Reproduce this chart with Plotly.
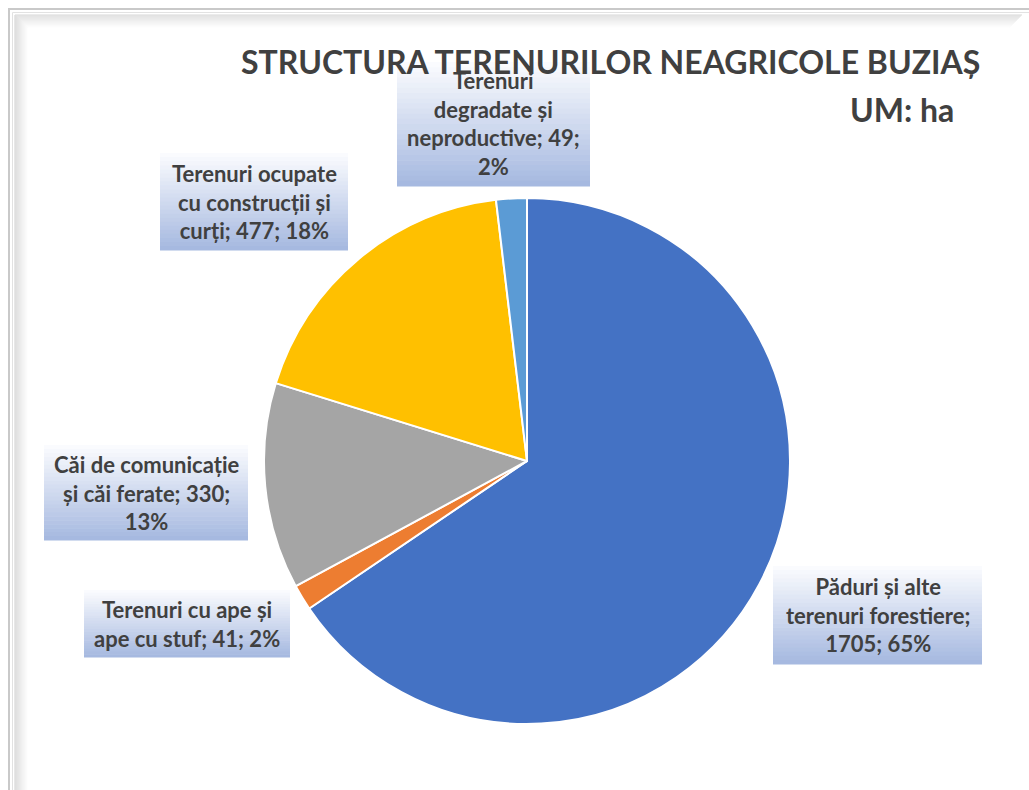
import plotly.graph_objects as go

W, H = 1029, 790

# data
categories = [
    "Păduri și alte terenuri forestiere",
    "Terenuri cu ape și ape cu stuf",
    "Căi de comunicație și căi ferate",
    "Terenuri ocupate cu construcții și curți",
    "Terenuri degradate și neproductive",
]
values = [1705, 41, 330, 477, 49]
label_texts = [
    "Păduri și alte<br>terenuri forestiere;<br>1705; 65%",
    "Terenuri cu ape și<br>ape cu stuf; 41; 2%",
    "Căi de comunicație<br>și căi ferate; 330;<br>13%",
    "Terenuri ocupate<br>cu construcții și<br>curți; 477; 18%",
    "Terenuri<br>degradate și<br>neproductive; 49;<br>2%",
]
colors = ["#4472C4", "#ED7D31", "#A5A5A5", "#FFC000", "#5B9BD5"]

# label boxes in pixels: x0, y0, x1, y1
boxes = [
    (773, 566, 982, 664),
    (84, 590, 290, 657),
    (44, 445, 248, 540),
    (160, 153, 348, 250),
    (397, 62, 590, 186),
]


def px(x):
    return x / W


def py(y):
    return 1 - y / H


def mix(c1, c2, t):
    r = [int(round(a + (b - a) * t)) for a, b in zip(c1, c2)]
    return "rgb(%d,%d,%d)" % tuple(r)


cx, cy, r = 527, 461, 263

fig = go.Figure(go.Pie(
    labels=categories,
    values=values,
    sort=False,
    direction="clockwise",
    rotation=0,
    marker=dict(colors=colors, line=dict(color="white", width=2)),
    textinfo="none",
    hoverinfo="label+value+percent",
    showlegend=False,
    domain=dict(x=[px(cx - r), px(cx + r)], y=[py(cy + r), py(cy - r)]),
))

shapes = []
# frame with soft shadow
for i in range(14):
    c = mix((215, 215, 215), (255, 255, 255), i / 13)
    shapes.append(dict(type="line", xref="paper", yref="paper",
                       x0=px(15 + i), x1=px(15 + i), y0=py(15 + i), y1=py(800),
                       line=dict(color=c, width=1.2), layer="below"))
    shapes.append(dict(type="line", xref="paper", yref="paper",
                       x0=px(15 + i), x1=px(1022 - i), y0=py(15 + i), y1=py(15 + i),
                       line=dict(color=c, width=1.2), layer="below"))
shapes.append(dict(type="rect", xref="paper", yref="paper",
                   x0=px(9), x1=px(1040), y0=py(9), y1=py(800),
                   line=dict(color="#c9c9c9", width=2), layer="below"))
shapes.append(dict(type="rect", xref="paper", yref="paper",
                   x0=px(12.5), x1=px(1040), y0=py(12.5), y1=py(800),
                   line=dict(color="#e2e2e2", width=1), layer="below"))

# gradient label boxes
n = 24
top, bot = (250, 251, 254), (166, 185, 224)
for (x0, y0, x1, y1) in boxes:
    h = (y1 - y0) / n
    for k in range(n):
        shapes.append(dict(type="rect", xref="paper", yref="paper",
                           x0=px(x0), x1=px(x1),
                           y0=py(y0 + k * h), y1=py(y0 + (k + 1) * h + 0.6),
                           fillcolor=mix(top, bot, k / (n - 1)),
                           line=dict(width=0), layer="above"))

annotations = []
for (x0, y0, x1, y1), t in zip(boxes, label_texts):
    annotations.append(dict(
        x=px((x0 + x1) / 2), y=py((y0 + y1) / 2), xref="paper", yref="paper",
        xanchor="center", yanchor="middle",
        text="<b>" + t + "</b>", showarrow=False, align="center",
        font=dict(family="Lato", size=22, color="#404040"),
    ))

annotations.append(dict(
    x=px(610), y=py(62), xref="paper", yref="paper",
    xanchor="center", yanchor="middle",
    text="<b>STRUCTURA TERENURILOR NEAGRICOLE BUZIAȘ</b>", showarrow=False,
    font=dict(family="Lato", size=32, color="#404040"),
))
annotations.append(dict(
    x=px(956), y=py(109), xref="paper", yref="paper",
    xanchor="right", yanchor="middle",
    text="<b>UM: ha</b>", showarrow=False,
    font=dict(family="Lato", size=32, color="#404040"),
))

fig.update_layout(
    width=W, height=H,
    margin=dict(l=0, r=0, t=0, b=0),
    paper_bgcolor="white",
    plot_bgcolor="white",
    shapes=shapes,
    annotations=annotations,
    font=dict(family="Lato", color="#404040"),
)

fig.write_html("out.html", config={"displayModeBar": False},
               post_script="document.body.style.margin='0';")
